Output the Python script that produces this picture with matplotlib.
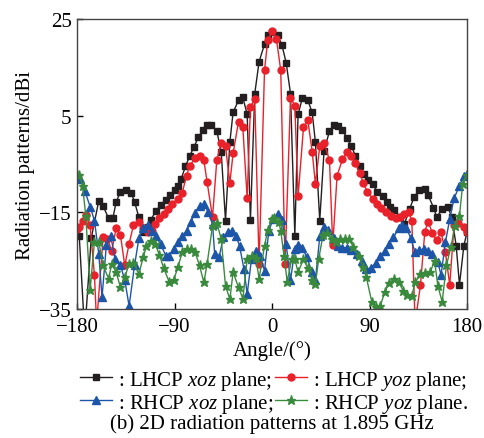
import matplotlib
matplotlib.use("Agg")
import matplotlib.pyplot as plt

plt.rcParams['font.family'] = ['Liberation Serif', 'DejaVu Serif']
plt.rcParams['font.size'] = 15
plt.rcParams['mathtext.fontset'] = 'custom'
plt.rcParams['mathtext.rm'] = 'Liberation Serif'
plt.rcParams['mathtext.it'] = 'Liberation Serif:italic'

# LHCP xoz plane
lx_ang = [-178, -173, -167, -160, -156, -151, -147, -144, -140, -135, -130, -127, -123, -119,
          -115, -112, -107, -103, -98, -94, -90, -87, -84, -80, -76, -72, -68, -64, -60, -56,
          -51, -47, -43, -39, -36, -31, -27, -23, -20, -16, -12, -7, -4, 0, 5, 9, 13, 17, 21,
          24, 28, 33, 37, 40, 44, 48, 53, 57, 61, 65, 69, 73, 77, 81, 85, 89, 93, 97, 102, 106,
          109, 113, 118, 122, 127, 131, 136, 141, 144, 149, 152, 157, 162, 166, 170, 173, 177, 180]
lx_val = [-20, -40, -20.4, -12.6, -13.7, -16.2, -16.2, -12.9, -10.7, -10.3, -11, -12.8, -16, -19.1,
          -18, -16.5, -14.7, -13.5, -12.4, -11.4, -10.3, -9.5, -8.1, -5.5, -3.3, -1.4, 0.6, 2.0, 3.1, 3.1,
          1.8, -2.4, -16.7, -0.5, 5.7, 8.2, 8.8, 5.3, -16.5, 9.6, 16.2, 19.8, 21.7, 22.4, 21.7, 19.7, 16, 9.6, -19.8,
          5.3, 8.7, 8.2, 5.7, -0.5, -16.7, -2.2, 1.8, 3.1, 2.9, 2.0, 0.5, -1.2, -3.3, -5.3, -7.1, -8.2, -9.1, -10.7, -11.7, -12.8,
          -13.8, -14.5, -16, -17.5, -14.3, -11.9, -10.3, -10.2, -11.4, -14, -16, -14.3, -13.8, -16, -22, -30, -22, -19]

# LHCP yoz plane
ly_ang = [-180, -178, -175, -172, -168, -164, -162, -156, -152, -148, -144, -140, -136, -132, -128,
          -123, -119, -115, -111, -108, -104, -100, -96, -92, -87, -83, -79, -76, -71, -67, -63, -60,
          -55, -51, -47, -43, -39, -36, -31, -27, -23, -20, -16, -12, -7, -4, 0, 4, 8, 12, 17, 21, 24,
          29, 33, 37, 40, 44, 48, 53, 56, 60, 65, 69, 73, 77, 81, 84, 88, 93, 97, 101, 105, 110, 114,
          118, 122, 126, 129, 132, 137, 141, 144, 148, 152, 156, 160, 164, 168, 172, 177, 180]
ly_val = [-18.5, -18.1, -16.7, -15.6, -17.7, -28, -38, -20.2, -20.5, -23, -18.3, -19.7, -26, -21.5, -17.7,
          -17, -18.3, -19, -18.8, -17.4, -16.2, -15.3, -14.3, -13.3, -12.2, -11, -7.4, -5.3, -3.8, -3.3, -4.2, -8.7,
          -16, -4.1, -0.6, -1.3, -8.9, -2.8, 3.8, 2.6, -12.1, 6.9, 8.4, -25.7, 14.4, 20.7, 22.5, 20.9, 14.4, -25.7, 8.7, 7.1, -11.7,
          2.6, 4.1, -2.4, -9.1, -1.3, -0.6, -4.2, -21.8, -7.4, -4, -2.6, -3.3, -4.8, -6.9, -8.9, -10.7, -12.2, -13.3, -14.2, -15, -15.7, -16.2,
          -16, -15.3, -15, -16.7, -38, -30, -19, -16.9, -19.3, -20.8, -19, -23.3, -30, -17.6, -17.2, -18, -19]

# RHCP xoz plane
rx_ang = [-180, -177, -173, -168, -164, -160, -157, -153, -149, -145, -140, -136, -132, -127, -123,
          -119, -115, -111, -107, -103, -98, -95, -91, -87, -83, -79, -75, -71, -67, -63, -59, -55,
          -53, -49, -45, -41, -37, -33, -30, -26, -23, -19, -15, -11, -7, -3, 1, 5, 9, 13, 17, 21,
          24, 28, 32, 37, 40, 44, 48, 52, 57, 61, 65, 69, 73, 78, 83, 87, 91, 96, 100, 104, 108, 112,
          117, 120, 124, 128, 132, 136, 140, 144, 148, 153, 156, 160, 164, 168, 173, 177, 180]
rx_val = [-7.5, -8.1, -10.5, -13.8, -16.7, -23.6, -32.6, -21.8, -19.8, -24.7, -26, -29, -34.4, -26, -20.4,
          -18.3, -17.6, -18.8, -20, -21.6, -24, -24.1, -22.6, -21.2, -20, -18.8, -16.9, -15.1, -13.6, -13.3, -14.9, -17.4,
          -23.6, -24.3, -20.2, -19, -18.8, -20, -22, -26.7, -31.9, -24.7, -22.9, -24, -27.1, -18.8, -16.4, -15.3, -16.5, -21.6, -29.1, -22.6,
          -21.8, -22.3, -24.3, -27.4, -29.1, -20, -18.1, -18.6, -20.4, -22, -22.3, -22.3, -22.7, -23.6, -25, -26.7, -26.6, -25.5, -24.1, -22.9, -21.6, -20.2,
          -18.3, -17.6, -18.3, -20.3, -23.3, -22.8, -22.6, -23, -23.6, -25.3, -28, -21.2, -16.4, -12.1, -9.5, -7.5, -7]

# RHCP yoz plane
ry_ang = [-180, -178, -175, -172, -168, -164, -160, -156, -151, -148, -144, -140, -136, -132, -128,
          -123, -119, -116, -112, -108, -104, -100, -95, -91, -87, -83, -79, -75, -71, -67, -63, -60,
          -55, -51, -47, -43, -39, -36, -31, -27, -23, -19, -15, -12, -7, -4, 0, 2, 6, 8, 11, 14, 18,
          21, 24, 29, 33, 37, 40, 43, 47, 51, 55, 59, 63, 67, 71, 75, 80, 84, 87, 92, 96, 100, 104, 108,
          113, 117, 121, 125, 129, 132, 137, 141, 146, 150, 153, 157, 161, 165, 169, 173, 176, 180]
ry_val = [-7.3, -7.3, -9.5, -15.7, -31, -21.1, -21.1, -26, -28.7, -25.7, -27.4, -30.5, -28.4, -25.7, -25.5,
          -27.8, -24.3, -22, -20.9, -21.6, -23.8, -26.6, -29.4, -29.1, -26.4, -23.3, -22.6, -22.6, -23.3, -26, -29.5, -25.7,
          -17.8, -17.2, -20.5, -30.2, -33, -27.4, -30.5, -32.9, -24.7, -24, -24.5, -28.7, -22, -18.6, -16.4, -16.2, -16.9, -18.8, -24, -29.4, -24.7,
          -24.7, -27.4, -24.7, -26.6, -29.1, -29.8, -24.7, -19.7, -19.3, -20.5, -21.2, -20.5, -20.5, -20.5, -22.2, -24, -26.4, -28.4, -33.5, -34.5, -34.3, -31.5, -29.6,
          -28.8, -29.5, -31.2, -32.1, -32.3, -29.5, -27.8, -27.6, -27.4, -25, -30.2, -33.5, -26, -22.2, -17.8, -15.7, -9.1, -7.3]

fig = plt.figure(figsize=(4.85, 4.39), dpi=100)
ax = fig.add_axes([0.159, 0.294, 0.804, 0.66])

ax.plot(lx_ang, lx_val, color='#231f20', lw=1, marker='s', ms=4.5,
        label=r': LHCP $xoz$ plane;')
ax.plot(ly_ang, ly_val, color='#e8212a', lw=1, marker='o', ms=5,
        label=r': LHCP $yoz$ plane;')
ax.plot(rx_ang, rx_val, color='#1d56a8', lw=1, marker='^', ms=5.5,
        label=r': RHCP $xoz$ plane;')
ax.plot(ry_ang, ry_val, color='#3a8a3e', lw=1, marker='*', ms=6.5,
        label=r': RHCP $yoz$ plane.')

ax.set_xlim(-180, 180)
ax.set_ylim(-35, 25)
ax.set_xticks([-180, -90, 0, 90, 180])
ax.set_yticks([-35, -15, 5, 25])
ax.tick_params(direction='in', length=4, width=1, top=False, right=False)
ax.tick_params(axis='x', pad=6)
ax.tick_params(axis='y', pad=4)
for s in ax.spines.values():
    s.set_color('#444444')
    s.set_linewidth(1)

ax.set_xlabel('Angle/(°)', labelpad=3)
ax.set_ylabel('Radiation patterns/dBi', labelpad=3)

# legend order in two rows
h, l = ax.get_legend_handles_labels()
order = [0, 2, 1, 3]
fig.legend([h[i] for i in order], [l[i] for i in order], ncol=2,
           loc='upper center', bbox_to_anchor=(0.565, 0.158), frameon=False,
           handlelength=1.5, handletextpad=0.3, columnspacing=0.1,
           labelspacing=0.0, borderaxespad=0, borderpad=0)

fig.text(0.56, 0.034, '(b) 2D radiation patterns at 1.895 GHz', ha='center', va='center')

fig.savefig('out.png', dpi=100)
